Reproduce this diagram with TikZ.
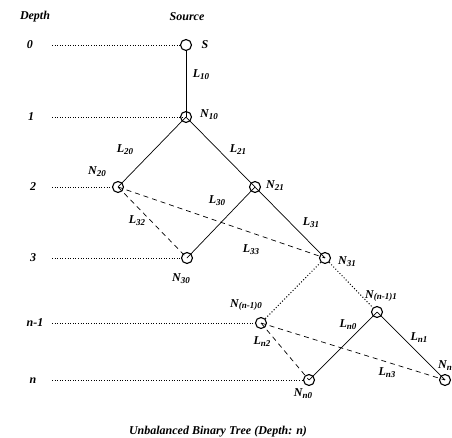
\documentclass[tikz,border=0pt]{standalone}
\usepackage{fontspec}
\setmainfont{Liberation Serif}
\newcommand\sbs[1]{\raisebox{-0.35ex}{\fontsize{9}{10}\selectfont #1}}
\begin{document}
\begin{tikzpicture}[x=1pt,y=-1pt,
  vtx/.style={circle,draw,line width=1.1pt,minimum size=11pt,inner sep=0pt},
  lbl/.style={font=\bfseries\itshape\fontsize{12}{14}\selectfont,inner sep=0pt},
  lvl/.style={dotted,line width=0.6pt},
  link/.style={line width=0.7pt},
  alt/.style={line width=0.7pt,dash pattern=on 5pt off 4pt},
  gap/.style={dotted,line width=1pt}]
\useasboundingbox (0,0) rectangle (452,438);
% headers
\node[lbl] (hd) at (35,17) {Depth};
\node[lbl] (hs) at (187,17) {Source};
% depth labels
\node[lbl] (d0) at (30,45) {0};
\node[lbl] (d1) at (31,117) {1};
\node[lbl] (d2) at (33,187) {2};
\node[lbl] (d3) at (33,258) {3};
\node[lbl] (dn1) at (35,323) {n-1};
\node[lbl] (dn) at (33,381) {n};
% vertices
\node[vtx] (S) at (186,45) {};
\node[vtx] (N10) at (186,117) {};
\node[vtx] (N20) at (118,187) {};
\node[vtx] (N21) at (255,187) {};
\node[vtx] (N30) at (187,258) {};
\node[vtx] (N31) at (325,258) {};
\node[vtx] (Nm0) at (261,323) {};
\node[vtx] (Nm1) at (377,312) {};
\node[vtx] (Nn0) at (309,380) {};
\node[vtx] (Nn1) at (445,380) {};
% level lines
\coordinate (e0) at (52,45);
\coordinate (e1) at (52,117);
\coordinate (e2) at (52,187);
\coordinate (e3) at (52,258);
\coordinate (en1) at (52,323);
\coordinate (en) at (52,380);
\draw[lvl] (e0) -- (S.west);
\draw[lvl] (e1) -- (N10.center);
\draw[lvl] (e2) -- (N20.west);
\draw[lvl] (e3) -- (N30.west);
\draw[lvl] (en1) -- (Nm0.west);
\draw[lvl] (en) -- (Nn0.west);
% solid links
\draw[link] (S.south) -- (N10.center);
\draw[link] (N10.center) -- (N20.center);
\draw[link] (N10.center) -- (N21.center);
\draw[link] (N21.center) -- (N30.center);
\draw[link] (N21.center) -- (N31.center);
\draw[link] (Nm1.center) -- (Nn0.center);
\draw[link] (Nm1.center) -- (Nn1.center);
% dashed links
\draw[alt] (N20.center) -- (N30.center);
\draw[alt] (N20.center) -- (N31.center);
\draw[alt] (Nm0.center) -- (Nn0.center);
\draw[alt] (Nm0.center) -- (Nn1.center);
% dotted gap links
\draw[gap] (N31) -- (Nm0);
\draw[gap] (N31) -- (Nm1);
% vertex labels
\node[lbl] (lS) at (205,45) {S};
\node[lbl] (lN10) at (209,115) {N\sbs{10}};
\node[lbl] (lN20) at (97,172) {N\sbs{20}};
\node[lbl] (lN21) at (275,186) {N\sbs{21}};
\node[lbl] (lN30) at (181,279) {N\sbs{30}};
\node[lbl] (lN31) at (347,262) {N\sbs{31}};
\node[lbl] (lNm0) at (246,305) {N\sbs{(n-1)0}};
\node[lbl] (lNm1) at (381,296) {N\sbs{(n-1)1}};
\node[lbl] (lNn0) at (303,394) {N\sbs{n0}};
\node[lbl,anchor=west] (lNn1) at (438,366) {N\sbs{n1}};
% edge labels
\node[lbl] (L10) at (201,75) {L\sbs{10}};
\node[lbl] (L20) at (125,150) {L\sbs{20}};
\node[lbl] (L21) at (238,150) {L\sbs{21}};
\node[lbl] (L30) at (217,201) {L\sbs{30}};
\node[lbl] (L31) at (311,223) {L\sbs{31}};
\node[lbl] (L32) at (137,221) {L\sbs{32}};
\node[lbl] (L33) at (251,250) {L\sbs{33}};
\node[lbl] (Ln0) at (348,325) {L\sbs{n0}};
\node[lbl] (Ln1) at (419,338) {L\sbs{n1}};
\node[lbl] (Ln2) at (262,342) {L\sbs{n2}};
\node[lbl] (Ln3) at (387,373) {L\sbs{n3}};
% caption
\node[lbl] (cap) at (218,432) {Unbalanced Binary Tree (Depth: n)};
\end{tikzpicture}
\end{document}
